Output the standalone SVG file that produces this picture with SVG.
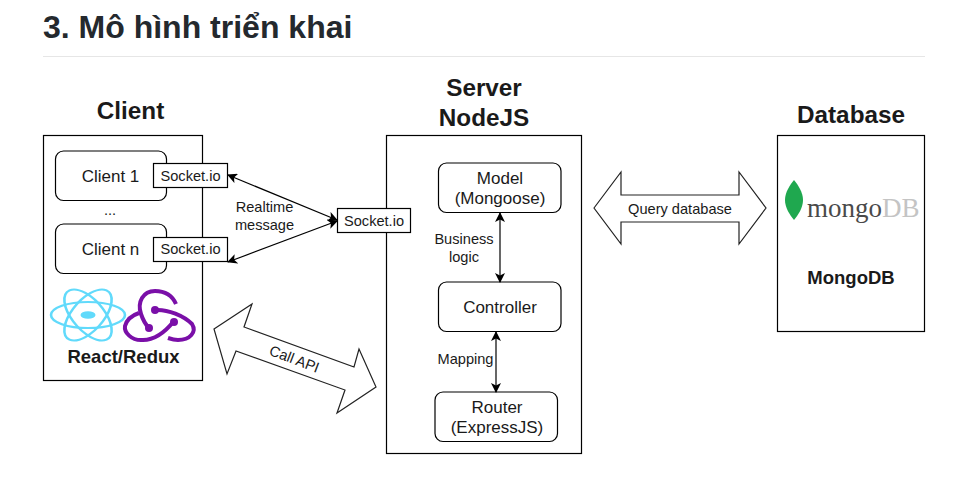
<svg xmlns="http://www.w3.org/2000/svg" width="954" height="479" viewBox="0 0 954 479">
<style>
text{font-family:"Liberation Sans",Arial,sans-serif;fill:#1a1a1a;text-anchor:middle}
.b{fill:#fff;stroke:#000;stroke-width:1.2}
.t{font-size:14.600px}.h{font-size:24.300px;font-weight:bold}.l{font-size:18.500px;font-weight:bold}.m{font-size:17px}
.c{fill:none;stroke:#000;stroke-width:1.2;marker-start:url(#a);marker-end:url(#a)}
.ar{fill:#fff;stroke:#222;stroke-width:1.2}
.re{fill:none;stroke:#61dafb;stroke-width:2.600}
.rx{fill:none;stroke:#7a0fa8;stroke-width:4}
</style>
<defs><marker id="a" viewBox="0 0 10 10" refX="9" refY="5" markerWidth="10" markerHeight="10" orient="auto-start-reverse" markerUnits="userSpaceOnUse"><path d="M0 0L10 5L0 10L2.500 5Z" fill="#000"/></marker></defs>
<rect width="954" height="479" fill="#fff"/>
<text x="43" y="38" style="text-anchor:start;font-size:32px;font-weight:bold;fill:#24292e">3. Mô hình triển khai</text>
<path d="M43 56.500H925" stroke="#e6e6e6" fill="none"/>
<g id="client">
<text class="h" x="130.500" y="119">Client</text>
<rect class="b" x="43.500" y="135.500" width="159" height="245"/>
<rect class="b" x="55.500" y="151" width="111" height="49.500" rx="8"/>
<text class="m" x="110.500" y="182">Client 1</text>
<text class="t" x="110" y="215">...</text>
<rect class="b" x="55.500" y="224" width="111" height="49.500" rx="8"/>
<text class="m" x="110.500" y="255">Client n</text>
<rect class="b" x="153.500" y="163.500" width="74" height="24"/>
<text class="t" x="190.500" y="181">Socket.io</text>
<rect class="b" x="153.500" y="237.500" width="74" height="24"/>
<text class="t" x="190.500" y="254">Socket.io</text>
<g id="react-logo" transform="translate(88 315) scale(1 .77)">
<ellipse class="re" rx="37" ry="17"/>
<ellipse class="re" rx="37" ry="17" transform="rotate(60)"/>
<ellipse class="re" rx="37" ry="17" transform="rotate(120)"/>
<ellipse rx="7.500" ry="5" fill="#61dafb"/>
</g>
<g id="redux-logo">
<path class="rx" d="M176 304C172 295 164 291 155 291C143 291 137 302 141 314C143 320 146 325 149 328"/>
<path class="rx" d="M155 310C168 309 184 316 192 324C197 332 190 340 178 340C174 340 171 339 168 338"/>
<path class="rx" d="M174 321C166 331 156 340 143 340C131 341 124 332 125 326C127 319 133 315 139 313"/>
<circle cx="155" cy="310" r="4" fill="#7a0fa8"/><circle cx="174" cy="322" r="4" fill="#7a0fa8"/><circle cx="149" cy="328" r="4" fill="#7a0fa8"/>
</g>
<text class="l" x="123.500" y="363">React/Redux</text>
</g>
<g id="server">
<text class="h" x="484" y="96">Server</text>
<text class="h" x="484" y="126">NodeJS</text>
<rect class="b" x="386.500" y="135.500" width="195" height="318"/>
<rect class="b" x="438.500" y="163" width="122.500" height="49.500" rx="8"/>
<text class="m" x="500" y="184">Model</text>
<text class="m" x="500" y="204">(Mongoose)</text>
<rect class="b" x="438.500" y="282" width="122.500" height="49.500" rx="8"/>
<text class="m" x="500" y="313">Controller</text>
<rect class="b" x="435" y="392" width="122.500" height="49.500" rx="8"/>
<text class="m" x="497" y="413">Router</text>
<text class="m" x="497" y="433">(ExpressJS)</text>
<rect class="b" x="337.500" y="208.500" width="73" height="24"/>
<text class="t" x="374" y="226">Socket.io</text>
</g>
<g id="database">
<text class="h" x="851" y="123">Database</text>
<rect class="b" x="777.500" y="135.500" width="147" height="196"/>
<path d="M794 180C798 185 803 192 803 200C803 208 798 215 794 220C790 215 785 208 785 200C785 192 790 185 794 180Z" fill="#1fa84f"/>
<text x="807" y="217" style="text-anchor:start;font-family:'Liberation Serif',serif;font-size:27px;fill:#4a4a4a">mongo<tspan fill="#c4c4c4">DB</tspan></text>
<text class="l" x="851" y="284">MongoDB</text>
</g>
<g id="connectors">
<path class="c" d="M228 175L337 220"/>
<path class="c" d="M228 262L337 221"/>
<path class="c" d="M500 213V282"/>
<path class="c" d="M496 332V392"/>
<path class="ar" d="M594 208L621 172V195H739V172L766 208L739 244V222H621V244Z"/>
<path class="ar" d="M214 329L252 304L244 327L354 367L359 349L376 387L337 413L345 390L236 351L227 374Z"/>
</g>
<g id="labels">
<text class="t" x="264.500" y="212">Realtime</text>
<text class="t" x="264.500" y="230">message</text>
<text class="t" x="464" y="244">Business</text>
<text class="t" x="464" y="262">logic</text>
<text class="t" x="465.500" y="364">Mapping</text>
<text class="t" x="680" y="214">Query database</text>
<text class="t" x="294" y="364" transform="rotate(21 294 360)">Call API</text>
</g>
</svg>
